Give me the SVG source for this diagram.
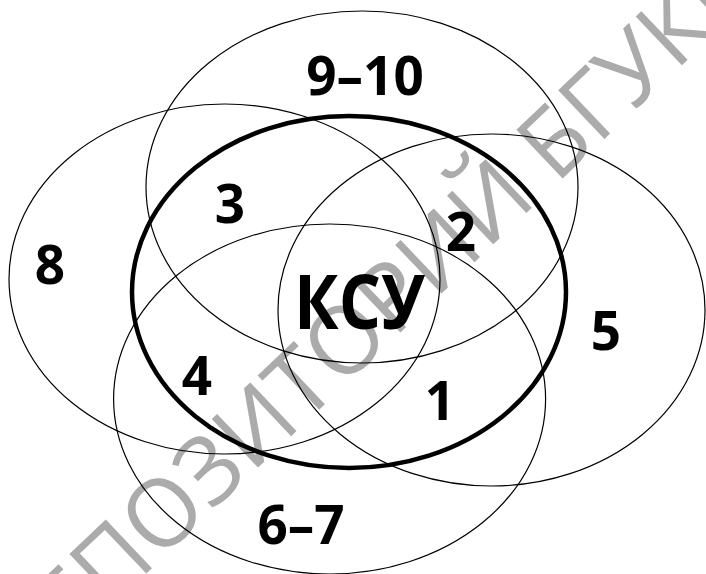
<svg xmlns="http://www.w3.org/2000/svg" width="706" height="574" viewBox="0 0 706 574">
<style>
.e{fill:none;stroke:#000;stroke-width:1.2}
.b{fill:none;stroke:#000;stroke-width:4.5}
.t{font-family:"Open Sans","Noto Sans","DejaVu Sans",sans-serif;font-weight:700;font-size:53px;fill:#000;text-anchor:middle}
.w{font-family:"Open Sans","Noto Sans","DejaVu Sans",sans-serif;font-weight:400;font-size:94px;fill:#ababab}
</style>
<rect width="706" height="574" fill="#fff"/>
<text class="w" x="30" y="684" transform="rotate(-43.5 30 684)">РЕПОЗИТОРИЙ БГУКИ</text>
<g id="connectors"></g>
<g id="top"><ellipse class="e" cx="362" cy="187" rx="216" ry="176"/></g>
<g id="left"><ellipse class="e" cx="224.5" cy="279" rx="215.5" ry="175"/></g>
<g id="right"><ellipse class="e" cx="491.5" cy="310" rx="213.5" ry="176"/></g>
<g id="bottom"><ellipse class="e" cx="329.6" cy="399" rx="216" ry="175"/></g>
<g id="ksu"><ellipse class="b" cx="349" cy="292" rx="217" ry="176"/></g>
<g id="labels">
<text class="t" x="365" y="95">9–10</text>
<text class="t" x="230" y="223">3</text>
<text class="t" x="50" y="284">8</text>
<text class="t" x="461" y="251">2</text>
<text class="t" x="359.5" y="329" style="font-size:75px" textLength="131" lengthAdjust="spacingAndGlyphs">КСУ</text>
<text class="t" x="606" y="350">5</text>
<text class="t" x="197" y="395">4</text>
<text class="t" x="440" y="420">1</text>
<text class="t" x="301" y="544">6–7</text>
</g>
</svg>
